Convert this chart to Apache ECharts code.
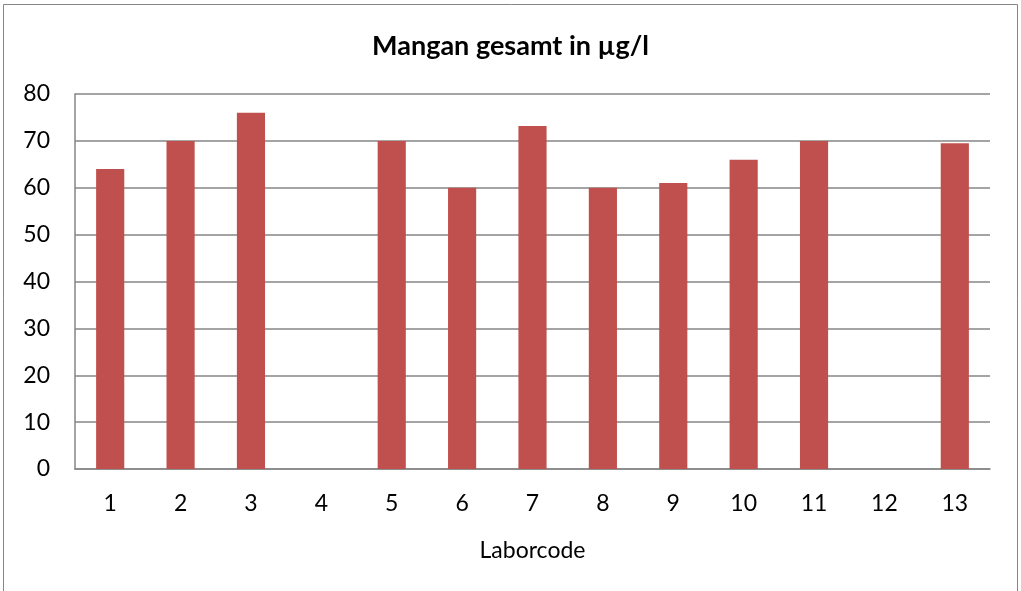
<!DOCTYPE html>
<html>
<head>
<meta charset="utf-8">
<script src="https://cdn.jsdelivr.net/npm/echarts@6/dist/echarts.min.js"></script>
<style>
  html, body { margin: 0; padding: 0; background: #fff; }
</style>
</head>
<body>
<div id="chart" style="width: 1021px; height: 591px"></div>
<script>
// Laborcode 1..13, Labore 4 und 12 ohne Wert
var laborcodes = ['1', '2', '3', '4', '5', '6', '7', '8', '9', '10', '11', '12', '13']
var manganWerte = [64, 70, 76, null, 70, 60, 73.2, 60, 61, 66, 70, null, 69.5]
var yTicks = { min: 0, max: 80, interval: 10 }

var fontFam = 'Lato, "Open Sans", sans-serif'
var chart = echarts.init(document.getElementById('chart'))

var option = {
  animation: false,
  backgroundColor: '#fff',
  title: {
    text: 'Mangan gesamt in µg/l',
    left: 'center',
    top: 28,
    textStyle: {
      fontFamily: fontFam,
      fontWeight: 'bold',
      fontSize: 27,
      color: '#000',
    },
  },
  // äußerer Rahmen
  graphic: [
    {
      type: 'rect',
      shape: { x: 3.5, y: 4.5, width: 1014, height: 600 },
      style: { fill: 'none', stroke: '#868686', lineWidth: 1 },
      silent: true,
    },
  ],
  grid: {
    left: 75,
    right: 31,
    top: 94,
    bottom: 122,
  },
  xAxis: {
    type: 'category',
    data: laborcodes,
    name: 'Laborcode',
    nameLocation: 'middle',
    nameGap: 70,
    nameTextStyle: { fontFamily: fontFam, fontSize: 23, color: '#000' },
    axisLine: { lineStyle: { color: '#868686', width: 1.5 } },
    axisTick: { show: false },
    axisLabel: {
      interval: 0,
      margin: 23,
      fontFamily: fontFam,
      fontSize: 23,
      color: '#000',
    },
  },
  yAxis: {
    type: 'value',
    min: yTicks.min,
    max: yTicks.max,
    interval: yTicks.interval,
    axisLine: { show: true, lineStyle: { color: '#868686', width: 1.5 } },
    axisTick: { show: false },
    axisLabel: {
      margin: 25,
      fontFamily: fontFam,
      fontSize: 23,
      color: '#000',
    },
    splitLine: {
      show: true,
      lineStyle: { color: '#868686', width: 1.5 },
    },
  },
  series: [
    {
      name: 'Mangan gesamt',
      type: 'bar',
      data: manganWerte,
      barWidth: '40%',
      itemStyle: { color: '#C0504D' },
    },
  ],
}

chart.setOption(option)
</script>
</body>
</html>
